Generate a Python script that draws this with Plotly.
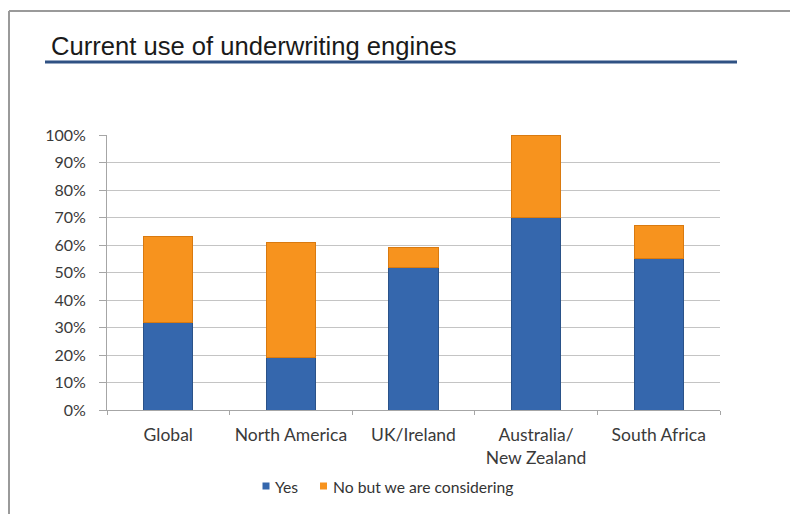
import plotly.graph_objects as go

categories = ["Global", "North America", "UK/Ireland", "Australia/<br>New Zealand", "South Africa"]
series_names = ["Yes", "No but we are considering"]
yes_vals = [32, 19, 52, 70, 55]
considering_vals = [31, 42, 7, 30, 12]
y_ticks = [0, 10, 20, 30, 40, 50, 60, 70, 80, 90, 100]
y_tick_labels = [f"{v}%" for v in y_ticks]
colors = ["#3567ad", "#f7931e"]
edge_colors = ["#2a5289", "#d97a10"]

W, H = 790, 514
L, R, T, B = 107, 70, 135, 104
PW, PH = W - L - R, H - T - B

def px_x(px):
    return (px - L) / PW

def px_y(py):
    return (H - B - py) / PH

fig = go.Figure()
for name, vals, c, ec in zip(series_names, [yes_vals, considering_vals], colors, edge_colors):
    fig.add_trace(go.Bar(
        x=categories, y=vals, name=name,
        marker=dict(color=c, line=dict(color=ec, width=1)),
    ))

fig.update_layout(
    width=W, height=H,
    margin=dict(l=L, r=R, t=T, b=B, pad=0, autoexpand=False),
    barmode="stack", bargap=0.6,
    paper_bgcolor="white", plot_bgcolor="white",
    font=dict(family="Lato, Carlito, sans-serif", size=14, color="#3a3a3a"),
    showlegend=False,
    xaxis=dict(
        showline=True, linecolor="#a6a6a6", linewidth=1, automargin=False,
        ticks="outside", tickson="boundaries", ticklen=4, tickcolor="#a6a6a6",
        showgrid=False, tickfont=dict(size=17.5, color="#3a3a3a"),
        ticklabelstandoff=9,
    ),
    yaxis=dict(
        range=[0, 100], tickvals=y_ticks, ticktext=y_tick_labels, automargin=False,
        showline=True, linecolor="#a6a6a6", linewidth=1,
        ticks="outside", ticklen=7, tickcolor="#a6a6a6",
        showgrid=True, gridcolor="#c4c4c4", gridwidth=1,
        tickfont=dict(size=16, color="#3a3a3a"), zeroline=False,
        ticklabelstandoff=10,
    ),
)

# title text
fig.add_annotation(
    text="Current use of underwriting engines", xref="paper", yref="paper",
    x=px_x(49), y=px_y(46), xanchor="left", yanchor="middle", showarrow=False,
    font=dict(family="Liberation Sans, Arial, sans-serif", size=25.6, color="#1a1a1a"),
)
# title underline
fig.add_shape(type="line", xref="paper", yref="paper",
              x0=px_x(45), x1=px_x(737), y0=px_y(62), y1=px_y(62),
              line=dict(color="#2f5183", width=3))
# slide frame
fig.add_shape(type="line", xref="paper", yref="paper",
              x0=px_x(9), x1=px_x(792), y0=px_y(11), y1=px_y(11),
              line=dict(color="#9a9a9a", width=2))
fig.add_shape(type="line", xref="paper", yref="paper",
              x0=px_x(9), x1=px_x(9), y0=px_y(11), y1=px_y(516),
              line=dict(color="#9a9a9a", width=2))

# legend (compact, like the original)
legend_x = [262.5, 320]
for name, c, lx in zip(series_names, colors, legend_x):
    fig.add_shape(type="rect", xref="paper", yref="paper",
                  x0=px_x(lx), x1=px_x(lx + 7), y0=px_y(482.5), y1=px_y(489.5),
                  fillcolor=c, line=dict(color=c, width=0))
    fig.add_annotation(text=name, xref="paper", yref="paper",
                       x=px_x(lx + 10.5), y=px_y(486.5), xanchor="left", yanchor="middle",
                       showarrow=False, font=dict(size=15.7, color="#333333"))

fig.write_html("out.html")
